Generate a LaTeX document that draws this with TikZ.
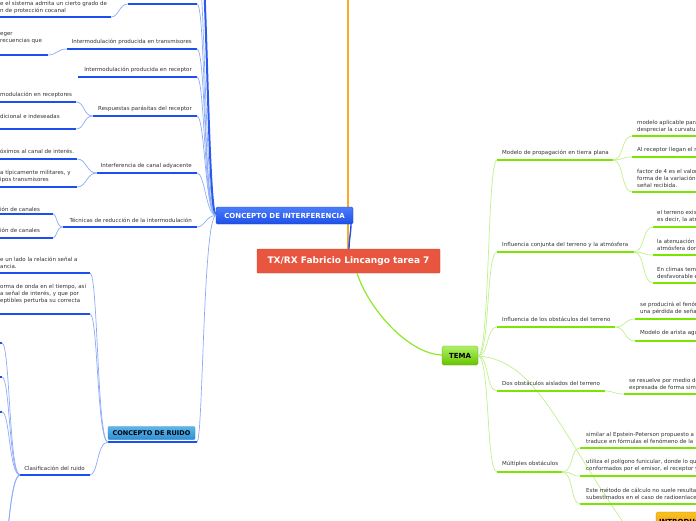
\documentclass[tikz,border=0pt]{standalone}
\usepackage{fontspec}
\setmainfont{DejaVu Sans}
\definecolor{txtgray}{HTML}{333333}
\definecolor{ulblue}{HTML}{1D4FF0}
\definecolor{conblue}{HTML}{8DABF9}
\definecolor{darkblue}{HTML}{2A5AF0}
\definecolor{ulgreen}{HTML}{7AE600}
\definecolor{congreen}{HTML}{C2F08C}
\definecolor{centred}{HTML}{E8563F}
\definecolor{orangeline}{HTML}{F7A928}
\definecolor{ibtop}{HTML}{4A7DFB}
\definecolor{ibbot}{HTML}{1E4FE8}
\definecolor{rbtop}{HTML}{5BB6EA}
\definecolor{rbbot}{HTML}{2D8FD6}
\newcommand\bodyf{\fontsize{5.5}{7}\selectfont}
\tikzset{
  txt/.style={font=\bodyf, text=txtgray, inner sep=0pt, align=left},
  ulb/.style={line width=2.2pt, draw=ulblue},
  conb/.style={line width=0.7pt, draw=conblue},
  ulg/.style={line width=2.6pt, draw=ulgreen},
  cong/.style={line width=0.7pt, draw=congreen},
}
\begin{document}
\begin{tikzpicture}[x=1pt,y=-1pt]
\useasboundingbox (0,0) rectangle (696,520);
\clip (0,0) rectangle (696,520);
\fill[white] (0,0) rectangle (696,520);

% ---------- central ----------
\draw[orangeline, line width=1.8pt] (348,250) -- (348,-10);
\node[fill=centred, draw=centred!85!black, line width=0.4pt, rounded corners=1pt, minimum width=183pt, minimum height=24pt, inner sep=0pt, text=white, font=\bfseries\fontsize{9}{10}\selectfont] (cen) at (348.5,261) {TX/RX Fabricio Lincango tarea 7};

% ---------- interference ----------
\node[rounded corners=1.5pt, top color=ibtop, bottom color=ibbot, draw=ibbot!85!black, line width=0.4pt, minimum width=137pt, minimum height=17pt, inner sep=0pt, text=white, font=\bfseries\fontsize{7}{8}\selectfont] (ci) at (284.5,215.5) {CONCEPTO DE INTERFERENCIA};
\draw[ulblue, line width=1.4pt] (cen.north -| 349,0) .. controls (349,240) and (351,232) .. (351,224);

\coordinate (cw) at (216,215.5);
% offscreen children
\coordinate (tx1) at (197,-40);
\coordinate (tx2) at (197,-90);
\draw[conb] (cw) .. controls (205,215.5) and (205,-40) .. (tx1);
\draw[darkblue, line width=2pt] (cw) .. controls (207,214) and (207,-90) .. (tx2);

% T0
\coordinate (t0l) at (128,4); \coordinate (t0r) at (197,4);
\draw[ulb] (t0l) -- (t0r);
\draw[conb] (cw) .. controls (203,215.5) and (206,4) .. (t0r);
\node[txt, anchor=west] (s0) at (0,7.5) {e el sistema admita un cierto grado de\\n de protección cocanal};
\coordinate (s0r) at (111,17);
\draw[ulb] (-5,17) -- (s0r);
\draw[conb] (t0l) .. controls (119,4) and (119,17) .. (s0r);

% T1
\node[txt, anchor=east] (t1) at (192,42) {Intermodulación producida en transmisores};
\coordinate (t1l) at (67,49); \coordinate (t1r) at (197,49);
\draw[ulb] (t1l) -- (t1r);
\draw[conb] (cw) .. controls (204,215.5) and (206,49) .. (t1r);
\node[txt, anchor=west] (s1) at (0,38.5) {eger\\recuencias que};
\coordinate (s1r) at (48,55);
\draw[ulb] (-5,55) -- (s1r);
\draw[conb] (t1l) .. controls (57,49) and (57,55) .. (s1r);

% T2
\node[txt, anchor=east] (t2) at (192,70) {Intermodulación producida en receptor};
\coordinate (t2l) at (78,77); \coordinate (t2r) at (197,77);
\draw[ulb] (t2l) -- (t2r);
\draw[conb] (cw) .. controls (204,215.5) and (205,77) .. (t2r);

% T3
\node[txt, anchor=east] (t3) at (192,109) {Respuestas parásitas del receptor};
\coordinate (t3l) at (93,116); \coordinate (t3r) at (197,116);
\draw[ulb] (t3l) -- (t3r);
\draw[conb] (cw) .. controls (205,215.5) and (205,116) .. (t3r);
\node[txt, anchor=west] (s3a) at (0,95) {modulación en receptores};
\node[txt, anchor=west] (s3b) at (0,116) {dicional e indeseadas};
\coordinate (s3ar) at (76,102); \coordinate (s3br) at (76,129);
\draw[ulb] (-5,102) -- (s3ar);
\draw[ulb] (-5,129) -- (s3br);
\draw[conb] (t3l) .. controls (83,116) and (85,102) .. (s3ar);
\draw[conb] (t3l) .. controls (83,116) and (85,129) .. (s3br);

% T4
\node[txt, anchor=east] (t4) at (192,166) {Interferencia de canal adyacente};
\coordinate (t4l) at (97,173); \coordinate (t4r) at (197,173);
\draw[ulb] (t4l) -- (t4r);
\draw[conb] (cw) .. controls (206,215.5) and (205,173) .. (t4r);
\node[txt, anchor=west] (s4a) at (0,151.5) {óximos al canal de interés.};
\node[txt, anchor=west] (s4b) at (0,176.5) {a típicamente militares, y\\ipos transmisores};
\coordinate (s4ar) at (77,159); \coordinate (s4br) at (77,187);
\draw[ulb] (-5,159) -- (s4ar);
\draw[ulb] (-5,187) -- (s4br);
\draw[conb] (t4l) .. controls (86,173) and (87,159) .. (s4ar);
\draw[conb] (t4l) .. controls (86,173) and (87,187) .. (s4br);

% T5
\node[txt, anchor=east] (t5) at (192,220) {Técnicas de reducción de la intermodulación};
\coordinate (t5l) at (63,227); \coordinate (t5r) at (197,227);
\draw[ulb] (t5l) -- (t5r);
\draw[conb] (cw) .. controls (206,215.5) and (205,227) .. (t5r);
\node[txt, anchor=west] (s5a) at (0,209) {ión de canales};
\node[txt, anchor=west] (s5b) at (0,230) {ión de canales};
\coordinate (s5ar) at (53,214); \coordinate (s5br) at (53,238);
\draw[ulb] (-5,214) -- (s5ar);
\draw[ulb] (-5,238) -- (s5br);
\draw[conb] (t5l) .. controls (56,227) and (57,214) .. (s5ar);
\draw[conb] (t5l) .. controls (56,227) and (57,238) .. (s5br);

% ---------- ruido ----------
\coordinate (rl) at (108,442); \coordinate (rr) at (197,442);
\draw[conb] (cw) .. controls (203,215.5) and (203,442) .. (rr);
\draw[ulb] (rl) -- (rr);
\node[rounded corners=1pt, top color=rbtop, bottom color=rbbot, draw=rbbot!85!black, line width=0.3pt, minimum width=87pt, minimum height=13pt, inner sep=0pt, text=black, font=\bfseries\fontsize{6.5}{7}\selectfont] (cr) at (151.5,433) {CONCEPTO DE RUIDO};

\node[txt, anchor=west] (r1) at (0,262.5) {e un lado la relación señal a\\ancia.};
\node[txt, anchor=west] (r2) at (0,294) {orma de onda en el tiempo, así\\a señal de interés, y que por\\eptibles perturba su correcta};
\node[txt, anchor=east] (r3) at (85,468) {Clasificación del ruido};
\coordinate (r1r) at (90,273); \coordinate (r2r) at (90,314);
\coordinate (r3l) at (20,475); \coordinate (r3r) at (90,475);
\draw[ulb] (-5,273) -- (r1r);
\draw[ulb] (-5,314) -- (r2r);
\draw[ulb] (r3l) -- (r3r);
\draw[conb] (rl) .. controls (97,442) and (98,273) .. (r1r);
\draw[conb] (rl) .. controls (97,442) and (98,314) .. (r2r);
\draw[conb] (rl) .. controls (97,442) and (98,475) .. (r3r);

% clasificacion children
\coordinate (c1) at (2,343); \coordinate (c2) at (2,377); \coordinate (c3) at (2,412);
\coordinate (c4) at (2,560); \coordinate (c5) at (2,600);
\draw[ulb] (-5,343) -- (c1);
\draw[ulb] (-5,377) -- (c2);
\draw[ulb] (-5,412) -- (c3);
\draw[conb] (r3l) .. controls (9,475) and (10,343) .. (c1);
\draw[conb] (r3l) .. controls (9,475) and (10,377) .. (c2);
\draw[conb] (r3l) .. controls (9,475) and (10,412) .. (c3);
\draw[conb] (r3l) .. controls (9,475) and (8,560) .. (c4);
\draw[conb] (r3l) .. controls (8,475) and (4,600) .. (c5);

% ---------- TEMA ----------
\draw[ulgreen!85!white, line width=1.2pt] (357,273) .. controls (368,308) and (408,354) .. (442,355);
\node[rounded corners=1.5pt, top color=ulgreen!60!white, bottom color=ulgreen!85!black, draw=ulgreen!70!black, line width=0.3pt, minimum width=36pt, minimum height=19pt, inner sep=0pt, text=black, font=\bfseries\fontsize{7}{8}\selectfont] (tema) at (460,355.5) {TEMA};
\coordinate (te) at (478,356);

% INTRODUCCION
\node[rounded corners=1.5pt, top color=orangeline!70!yellow, bottom color=orangeline!90!red, draw=orangeline!70!black, line width=0.3pt, minimum width=80pt, minimum height=18pt, inner sep=0pt, text=black, font=\bfseries\fontsize{7}{8}\selectfont, text width=74pt, align=left] (intro) at (696,521) {INTRODUCCIÓN};
\coordinate (introin) at (636,540);
\draw[cong] (te) .. controls (540,360) and (562,440) .. (introin);

% G1
\node[txt, anchor=west] (g1) at (502,153) {Modelo de propagación en tierra plana};
\coordinate (g1l) at (497,160); \coordinate (g1r) at (613,160);
\draw[cong] (te) .. controls (490,356) and (487,160) .. (g1l);
\draw[ulg] (g1l) -- (g1r);
\node[txt, anchor=west] (g1a) at (637,126) {modelo aplicable para\\despreciar la curvatura};
\node[txt, anchor=west] (g1b) at (637,150) {Al receptor llegan el rayo};
\node[txt, anchor=west] (g1c) at (637,178.5) {factor de 4 es el valor\\forma de la variación\\señal recibida.};
\coordinate (g1al) at (632,136); \coordinate (g1bl) at (632,157); \coordinate (g1cl) at (632,192);
\draw[ulg] (g1al) -- (700,136);
\draw[ulg] (g1bl) -- (700,157);
\draw[ulg] (g1cl) -- (700,192);
\draw[cong] (g1r) .. controls (624,160) and (621,136) .. (g1al);
\draw[cong] (g1r) .. controls (624,160) and (621,157) .. (g1bl);
\draw[cong] (g1r) .. controls (624,160) and (621,192) .. (g1cl);

% G2
\node[txt, anchor=west] (g2) at (502,245) {Influencia conjunta del terreno y la atmósfera};
\coordinate (g2l) at (497,252); \coordinate (g2r) at (634,252);
\draw[cong] (te) .. controls (490,356) and (486,252) .. (g2l);
\draw[ulg] (g2l) -- (g2r);
\node[txt, anchor=west] (g2a) at (657,216.5) {el terreno existe\\es decir, la atmósfera};
\node[txt, anchor=west] (g2b) at (657,244.5) {la atenuación\\atmósfera donde};
\node[txt, anchor=west] (g2c) at (657,272.5) {En climas templados\\desfavorable en};
\coordinate (g2al) at (653,227); \coordinate (g2bl) at (653,255); \coordinate (g2cl) at (653,283);
\draw[ulg] (g2al) -- (700,227);
\draw[ulg] (g2bl) -- (700,255);
\draw[ulg] (g2cl) -- (700,283);
\draw[cong] (g2r) .. controls (645,252) and (642,227) .. (g2al);
\draw[cong] (g2r) .. controls (645,252) and (642,255) .. (g2bl);
\draw[cong] (g2r) .. controls (645,252) and (642,283) .. (g2cl);

% G3
\node[txt, anchor=west] (g3) at (502,319) {Influencia de los obstáculos del terreno};
\coordinate (g3l) at (497,327); \coordinate (g3r) at (615,327);
\draw[cong] (te) .. controls (489,356) and (486,327) .. (g3l);
\draw[ulg] (g3l) -- (g3r);
\node[txt, anchor=west] (g3a) at (640,308.5) {se producirá el fenómeno\\una pérdida de señal};
\node[txt, anchor=west] (g3b) at (640,333) {Modelo de arista aguda};
\coordinate (g3al) at (635,319); \coordinate (g3bl) at (635,341);
\draw[ulg] (g3al) -- (700,319);
\draw[ulg] (g3bl) -- (700,341);
\draw[cong] (g3r) .. controls (626,327) and (624,319) .. (g3al);
\draw[cong] (g3r) .. controls (626,327) and (624,341) .. (g3bl);

% G4
\node[txt, anchor=west] (g4) at (502,383) {Dos obstáculos aislados del terreno};
\coordinate (g4l) at (497,391); \coordinate (g4r) at (605,391);
\draw[cong] (te) .. controls (489,356) and (486,391) .. (g4l);
\draw[ulg] (g4l) -- (g4r);
\node[txt, anchor=west] (g4a) at (629,384) {se resuelve por medio de\\expresada de forma simple};
\coordinate (g4al) at (624,394);
\draw[ulg] (g4al) -- (700,394);
\draw[cong] (g4r) .. controls (614,391) and (614,394) .. (g4al);

% G5
\node[txt, anchor=west] (g5) at (502,464) {Múltiples obstáculos};
\coordinate (g5l) at (497,472); \coordinate (g5r) at (562,472);
\draw[cong] (te) .. controls (490,356) and (486,472) .. (g5l);
\draw[ulg] (g5l) -- (g5r);
\node[txt, anchor=west] (g5a) at (586,437.5) {similar al Epstein-Peterson propuesto a\\traduce en fórmulas el fenómeno de la};
\node[txt, anchor=west] (g5b) at (586,465.5) {utiliza el polígono funicular, donde lo que\\conformados por el emisor, el receptor y};
\node[txt, anchor=west] (g5c) at (586,493.5) {Este método de cálculo no suele resultar\\subestimados en el caso de radioenlaces};
\coordinate (g5al) at (580,448); \coordinate (g5bl) at (580,476); \coordinate (g5cl) at (580,504);
\draw[ulg] (g5al) -- (700,448);
\draw[ulg] (g5bl) -- (700,476);
\draw[ulg] (g5cl) -- (700,504);
\draw[cong] (g5r) .. controls (574,472) and (570,448) .. (g5al);
\draw[cong] (g5r) .. controls (574,472) and (570,476) .. (g5bl);
\draw[cong] (g5r) .. controls (574,472) and (570,504) .. (g5cl);
\end{tikzpicture}
\end{document}
